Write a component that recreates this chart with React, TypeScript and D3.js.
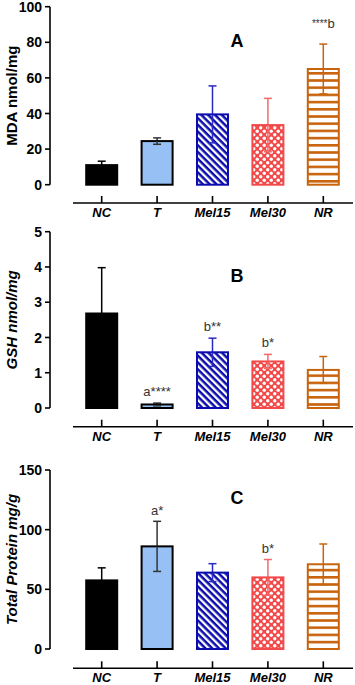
import * as d3 from "d3";

const categories = ["NC", "T", "Mel15", "Mel30", "NR"];

const mdaMean = [11, 24.5, 39.5, 33.5, 65];
const mdaSd = [2.2, 1.8, 16, 15, 14];
const mdaTicks = [0, 20, 40, 60, 80, 100];

const gshMean = [2.68, 0.1, 1.58, 1.32, 1.08];
const gshSd = [1.3, 0.04, 0.4, 0.2, 0.38];
const gshTicks = [0, 1, 2, 3, 4, 5];

const proteinMean = [57.5, 86, 64, 60, 71];
const proteinSd = [10.5, 21, 7.5, 15, 17];
const proteinTicks = [0, 50, 100, 150];

// significance labels per bar ("" = none)
const mdaSig = ["", "", "", "", "****b"];
const gshSig = ["", "a****", "b**", "b*", ""];
const proteinSig = ["", "a*", "", "b*", ""];

const strokes = ["#000000", "#000000", "#0c0cae", "#f24a4a", "#c8640e"];
const fills = ["#000000", "#97c1f5", "url(#diag)", "url(#dots)", "url(#hstripe)"];
const errColors = ["#000000", "#333333", "#2a2ac0", "#f26a6a", "#c8640e"];

const font = "Arial, 'Liberation Sans', Helvetica, sans-serif";

interface PanelProps {
  means: number[];
  sds: number[];
  ticks: number[];
  sig: string[];
  sigGap: number;
  letter: string;
  letterValue: number;
  yLabel: string;
  yLabelItalic: boolean;
  top: number;
  bottom: number;
  axisY: number;
}

function Panel(p: PanelProps) {
  const max = d3.max(p.ticks) ?? 1;
  const y = d3.scaleLinear().domain([0, max]).range([p.bottom, p.top]);
  const x = d3.scalePoint<string>().domain(categories).range([74, 351]).padding(0.5);
  const barW = 31;
  const capW = 8;
  const axisX = 50;

  return (
    <g fontFamily={font}>
      {/* y axis */}
      <line x1={axisX} x2={axisX} y1={y(0)} y2={y(max)} stroke="#000" strokeWidth={1.6} />
      {p.ticks.map((t) => (
        <g key={t}>
          <line x1={axisX - 5} x2={axisX} y1={y(t)} y2={y(t)} stroke="#000" strokeWidth={1.6} />
          <text x={axisX - 8} y={y(t)} dy="0.36em" textAnchor="end" fontSize={14} fontWeight="bold">
            {t}
          </text>
        </g>
      ))}
      <text
        transform={`translate(17,${(y(0) + y(max)) / 2}) rotate(-90)`}
        textAnchor="middle"
        fontSize={15}
        fontWeight="bold"
        fontStyle={p.yLabelItalic ? "italic" : "normal"}
      >
        {p.yLabel}
      </text>

      {/* bars */}
      {categories.map((c, i) => {
        const cx = x(c)!;
        const v = p.means[i];
        const top = y(v);
        const hi = y(v + p.sds[i]);
        const lo = y(Math.max(0, v - p.sds[i]));
        const s = p.sig[i];
        const stars = s.replace(/[a-z]/g, "");
        const letter = s.replace(/\*/g, "");
        const starsFirst = s.startsWith("*");
        return (
          <g key={c}>
            <line x1={cx} x2={cx} y1={hi} y2={lo} stroke={errColors[i]} strokeWidth={1.5} />
            <line x1={cx - capW / 2} x2={cx + capW / 2} y1={hi} y2={hi} stroke={errColors[i]} strokeWidth={1.5} />
            <rect
              x={cx - barW / 2}
              y={top}
              width={barW}
              height={y(0) - top}
              fill={fills[i]}
              stroke={strokes[i]}
              strokeWidth={2}
            />
            <line x1={cx} x2={cx} y1={top} y2={lo} stroke={errColors[i]} strokeWidth={1.5} />
            <line x1={cx - capW / 2} x2={cx + capW / 2} y1={lo} y2={lo} stroke={errColors[i]} strokeWidth={1.5} />
            {s && (
              <text x={cx} y={hi - p.sigGap} dy="0.35em" textAnchor="middle" fontSize={13} fill="#333">
                {starsFirst ? (
                  <>
                    <tspan fontSize={10} dy="-0.1em">{stars}</tspan>
                    <tspan dy="0.1em">{letter}</tspan>
                  </>
                ) : (
                  s
                )}
              </text>
            )}
          </g>
        );
      })}

      {/* x axis, drawn below the plot */}
      <line x1={73} x2={353} y1={p.axisY} y2={p.axisY} stroke="#000" strokeWidth={1.6} />
      {categories.map((c) => (
        <g key={c}>
          <line x1={x(c)!} x2={x(c)!} y1={p.axisY} y2={p.axisY - 7} stroke="#000" strokeWidth={1.6} />
          <text x={x(c)!} y={p.axisY + 9.5} dy="0.34em" textAnchor="middle" fontSize={13} fontWeight="bold" fontStyle="italic">
            {c}
          </text>
        </g>
      ))}

      <text x={237} y={y(p.letterValue)} dy="0.36em" textAnchor="middle" fontSize={18} fontWeight="bold">
        {p.letter}
      </text>
    </g>
  );
}

export default function App() {
  return (
    <svg width={355} height={685} style={{ position: "absolute", left: 0, top: 0, background: "#fff" }}>
      <defs>
        <pattern id="diag" patternUnits="userSpaceOnUse" width={10} height={4.8} patternTransform="rotate(45)">
          <rect width={10} height={4.8} fill="#fff" />
          <rect width={10} height={2.5} fill="#0c0cae" />
        </pattern>
        <pattern id="dots" patternUnits="userSpaceOnUse" width={7} height={7}>
          <rect width={7} height={7} fill="#f24a4a" />
          <circle cx={1.75} cy={1.75} r={1.7} fill="#fff" />
          <circle cx={5.25} cy={5.25} r={1.7} fill="#fff" />
        </pattern>
        <pattern id="hstripe" patternUnits="userSpaceOnUse" width={10} height={7.2}>
          <rect width={10} height={7.2} fill="#fff" />
          <rect width={10} height={2.6} fill="#c8640e" />
        </pattern>
      </defs>
      <Panel
        means={mdaMean}
        sds={mdaSd}
        ticks={mdaTicks}
        sig={mdaSig}
        sigGap={16}
        letter="A"
        letterValue={81}
        yLabel="MDA nmol/mg"
        yLabelItalic={false}
        top={6.7}
        bottom={184.7}
        axisY={203}
      />
      <Panel
        means={gshMean}
        sds={gshSd}
        ticks={gshTicks}
        sig={gshSig}
        sigGap={12}
        letter="B"
        letterValue={3.76}
        yLabel="GSH nmol/mg"
        yLabelItalic={true}
        top={231.7}
        bottom={408}
        axisY={426.7}
      />
      <Panel
        means={proteinMean}
        sds={proteinSd}
        ticks={proteinTicks}
        sig={proteinSig}
        sigGap={11}
        letter="C"
        letterValue={126.7}
        yLabel="Total Protein mg/g"
        yLabelItalic={true}
        top={470}
        bottom={649}
        axisY={668.3}
      />
    </svg>
  );
}
